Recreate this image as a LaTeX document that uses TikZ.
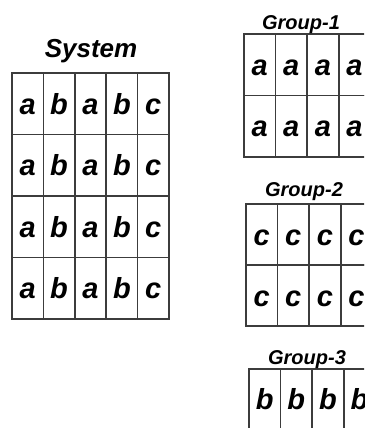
\documentclass[tikz,border=0pt]{standalone}
\usepackage{fontspec}
\setmainfont{Liberation Sans}
\usepackage{xcolor}
\definecolor{gridgray}{RGB}{60,60,60}

\begin{document}
\begin{tikzpicture}[
    x=1pt, y=-1pt,
    cell/.style={rectangle, draw=gridgray, line width=1.5pt, outer sep=0pt,
                 minimum width=31.4pt, minimum height=61.5pt, inner sep=0pt,
                 anchor=north west, text height=21pt, text depth=0pt,
                 font=\bfseries\itshape\fontsize{29}{31}\selectfont},
    title/.style={anchor=base, inner sep=0pt},
    every node/.style={text=black}
]
%% Canvas
\clip (0,0) rectangle (364,428);
\fill[white] (0,0) rectangle (364,428);
%% System grid
\node[title, font=\bfseries\itshape\fontsize{26}{30}\selectfont] (systitle) at (91,57) {System};
\foreach \lt [count=\c] in {a,b,a,b,c}
  \foreach \r in {1,...,4}
    \node[cell] (sys-\r-\c) at ({12+(\c-1)*31.4}, {73+(\r-1)*61.5}) {\lt};
%% Groups (right edge and last row run off the picture)
\foreach \g/\lt/\gx/\gy/\rows/\rowh in {1/a/244/34/2/61.5, 2/c/246/204/2/61, 3/b/249/369/1/59.5} {
  \foreach \c in {1,...,4}
    \foreach \r in {1,...,\rows}
      \node[cell, minimum height=\rowh pt] (grp\g-\r-\c) at ({\gx+(\c-1)*31.6}, {\gy+(\r-1)*\rowh}) {\lt};
}
\node[title, font=\bfseries\itshape\fontsize{20}{24}\selectfont] (grp1title) at (301,30) {Group-1};
\node[title, font=\bfseries\itshape\fontsize{20}{24}\selectfont] (grp2title) at (304,196) {Group-2};
\node[title, font=\bfseries\itshape\fontsize{20}{24}\selectfont] (grp3title) at (307,364) {Group-3};
\end{tikzpicture}
\end{document}
